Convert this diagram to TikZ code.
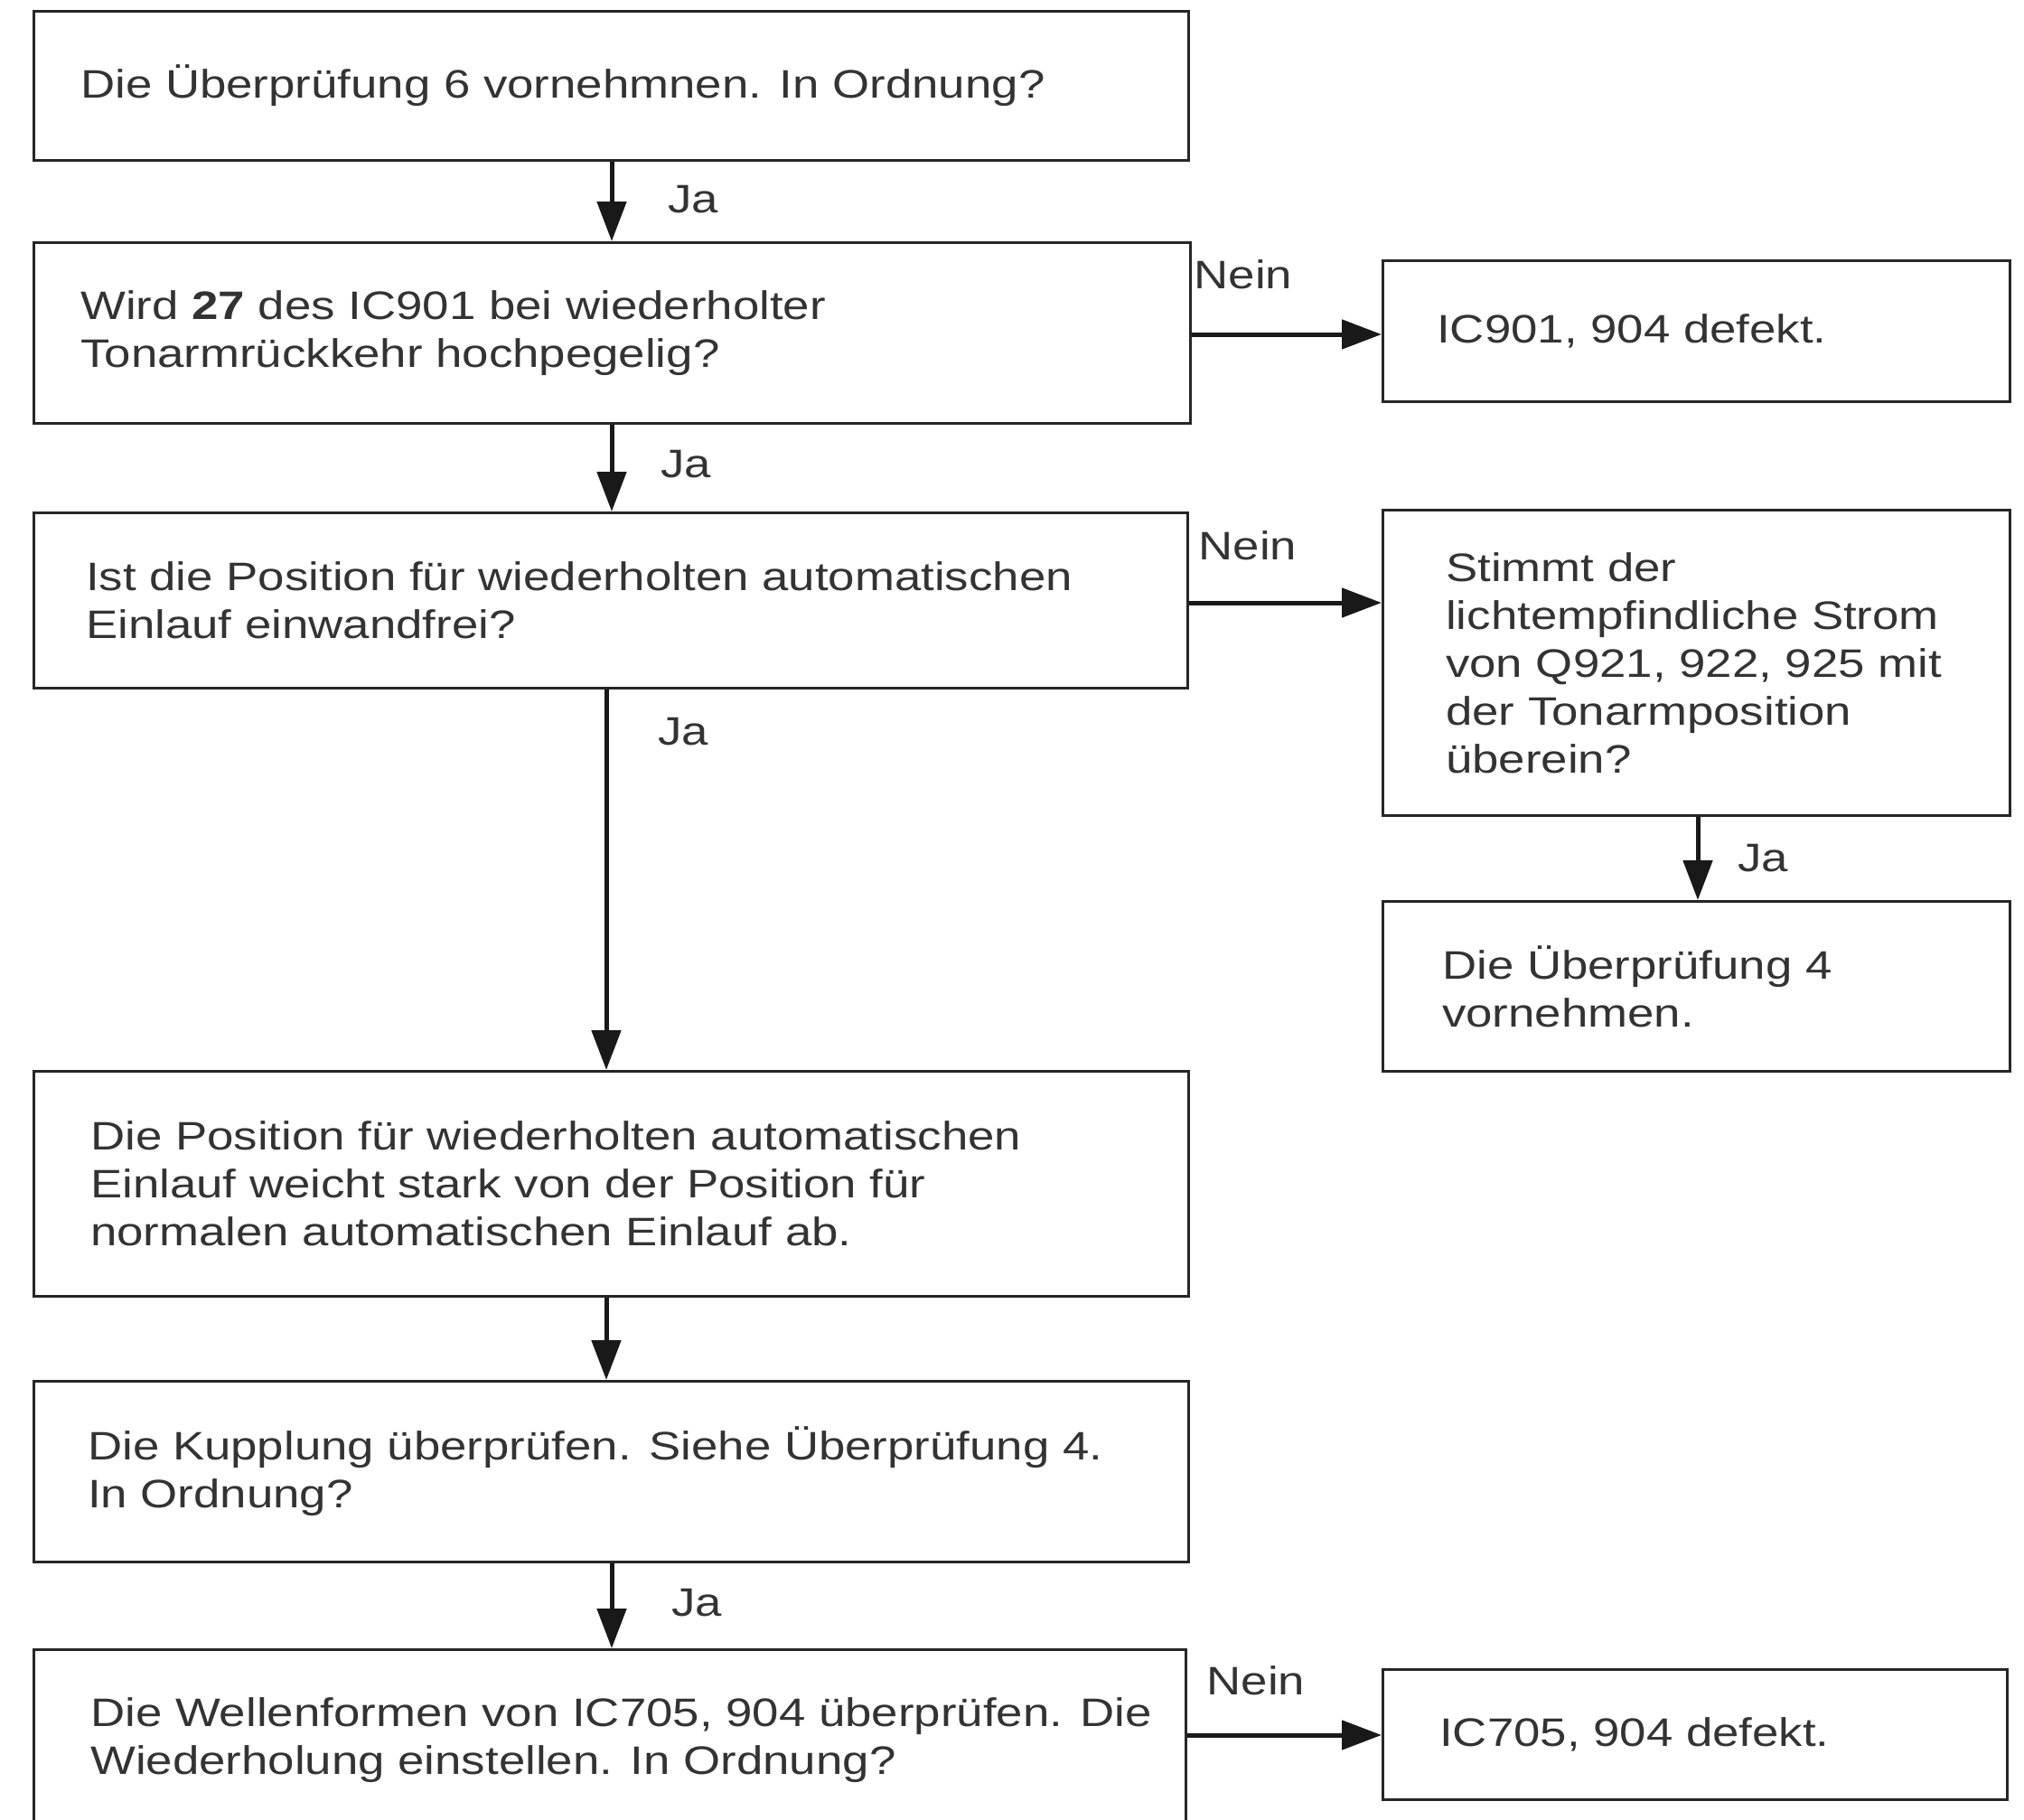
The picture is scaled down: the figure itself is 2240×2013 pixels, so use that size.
\documentclass[tikz,border=0pt]{standalone}
\usepackage{fontspec}
\setmainfont{Liberation Sans}[FakeStretch=1.2]
\usetikzlibrary{arrows.meta,calc}
\begin{document}
\begin{tikzpicture}[x=1pt,y=-1pt,
  frame/.style={draw=black!85, line width=2.6pt, rectangle, anchor=north west, inner sep=0pt},
  txt/.style={anchor=west, align=left, inner sep=0pt, text=black!80,
    font=\fontsize{44}{53}\selectfont},
  flow/.style={line width=5pt, draw=black!90, -{Triangle[length=44pt,width=32pt]}},
  lab/.style={inner sep=0pt, text=black!80, font=\fontsize{44}{53}\selectfont}]
\useasboundingbox (0,0) rectangle (2240,2013);
\clip (0,0) rectangle (2240,2013);

% main column
\node[frame, minimum width=1278pt, minimum height=165pt] (b1) at (36,11) {};
\node[txt] (t1) at ($(b1.west)+(53,0)$) {Die Überprüfung 6 vornehmnen. In Ordnung?};

\node[frame, minimum width=1280pt, minimum height=200pt] (b2) at (36,267) {};
\node[txt] (t2) at ($(b2.west)+(53,0)$) {Wird \textbf{27} des IC901 bei wiederholter\\Tonarmrückkehr hochpegelig?};

\node[frame, minimum width=1277pt, minimum height=194pt] (b3) at (36,566) {};
\node[txt] (t3) at ($(b3.west)+(59,0)$) {Ist die Position für wiederholten automatischen\\Einlauf einwandfrei?};

\node[frame, minimum width=1278pt, minimum height=249pt] (b4) at (36,1184) {};
\node[txt] (t4) at ($(b4.west)+(64,0)$) {Die Position für wiederholten automatischen\\Einlauf weicht stark von der Position für\\normalen automatischen Einlauf ab.};

\node[frame, minimum width=1278pt, minimum height=200pt] (b5) at (36,1527) {};
\node[txt] (t5) at ($(b5.west)+(61,0)$) {Die Kupplung überprüfen. Siehe Überprüfung 4.\\In Ordnung?};

\node[frame, minimum width=1275pt, minimum height=200pt] (b6) at (36,1824) {};
\node[txt] (t6) at ($(b6.west)+(64,0)$) {Die Wellenformen von IC705, 904 überprüfen. Die\\Wiederholung einstellen. In Ordnung?};

% right column
\node[frame, minimum width=694pt, minimum height=156pt] (e1) at (1529,287) {};
\node[txt] (u1) at ($(e1.west)+(61,0)$) {IC901, 904 defekt.};

\node[frame, minimum width=694pt, minimum height=338pt] (e2) at (1529,563) {};
\node[txt] (u2) at ($(e2.west)+(71,0)$) {Stimmt der\\lichtempfindliche Strom\\von Q921, 922, 925 mit\\der Tonarmposition\\überein?};

\node[frame, minimum width=694pt, minimum height=188pt] (e3) at (1529,996) {};
\node[txt] (u3) at ($(e3.west)+(67,0)$) {Die Überprüfung 4\\vornehmen.};

\node[frame, minimum width=691pt, minimum height=144pt] (e4) at (1529,1846) {};
\node[txt] (u4) at ($(e4.west)+(64,0)$) {IC705, 904 defekt.};

% vertical connectors
\draw[flow] (b1.south -| 677,0) -- (b2.north -| 677,0);
\draw[flow] (b2.south -| 677,0) -- (b3.north -| 677,0);
\draw[flow] (b3.south -| 671,0) -- (b4.north -| 671,0);
\draw[flow] (b4.south -| 671,0) -- (b5.north -| 671,0);
\draw[flow] (b5.south -| 677,0) -- (b6.north -| 677,0);
\draw[flow] (e2.south -| 1879,0) -- (e3.north -| 1879,0);

% horizontal connectors
\draw[flow] (b2.east |- 0,370) -- (e1.west |- 0,370);
\draw[flow] (b3.east |- 0,667) -- (e2.west |- 0,667);
\draw[flow] (b6.east |- 0,1920) -- (e4.west |- 0,1920);

% branch labels
\node[lab] (ja1) at (767,221) {Ja};
\node[lab] (ja2) at (759,514) {Ja};
\node[lab] (ja3) at (756,810) {Ja};
\node[lab] (ja4) at (1951,950) {Ja};
\node[lab] (ja5) at (771,1774) {Ja};
\node[lab] (n1) at (1376,304) {Nein};
\node[lab] (n2) at (1381,604) {Nein};
\node[lab] (n3) at (1390,1860) {Nein};
\end{tikzpicture}
\end{document}
